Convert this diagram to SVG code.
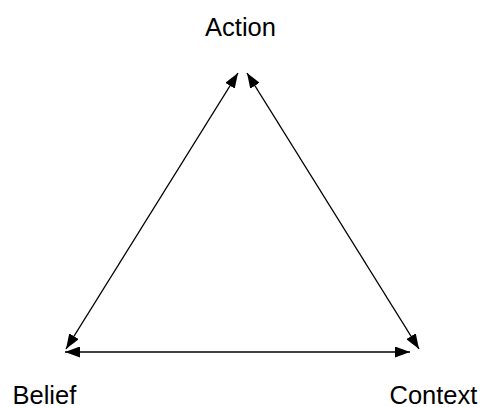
<svg xmlns="http://www.w3.org/2000/svg" width="482" height="407" viewBox="0 0 482 407">
<style>
.lbl{font-family:"Liberation Sans",Arial,sans-serif;font-size:25.5px;fill:#000}
.conn{stroke:#000;stroke-width:1.4;fill:none;marker-start:url(#ah);marker-end:url(#ah)}
</style>
<defs>
<marker id="ah" viewBox="0 0 15 11" refX="15" refY="5.5" markerWidth="15" markerHeight="11" markerUnits="userSpaceOnUse" orient="auto-start-reverse">
<path d="M0,0 L15,5.5 L0,11 Z" fill="#000"/>
</marker>
</defs>
<rect width="482" height="407" fill="#fff"/>
<g id="connectors">
<line class="conn" x1="238" y1="73" x2="66" y2="349"/>
<line class="conn" x1="247" y1="73" x2="419" y2="349"/>
<line class="conn" x1="65" y1="352" x2="410" y2="352"/>
</g>
<g id="action"><text class="lbl" x="240.5" y="35.5" text-anchor="middle">Action</text></g>
<g id="belief"><text class="lbl" x="12.5" y="403.5">Belief</text></g>
<g id="context"><text class="lbl" x="389.5" y="403.5">Context</text></g>
</svg>
